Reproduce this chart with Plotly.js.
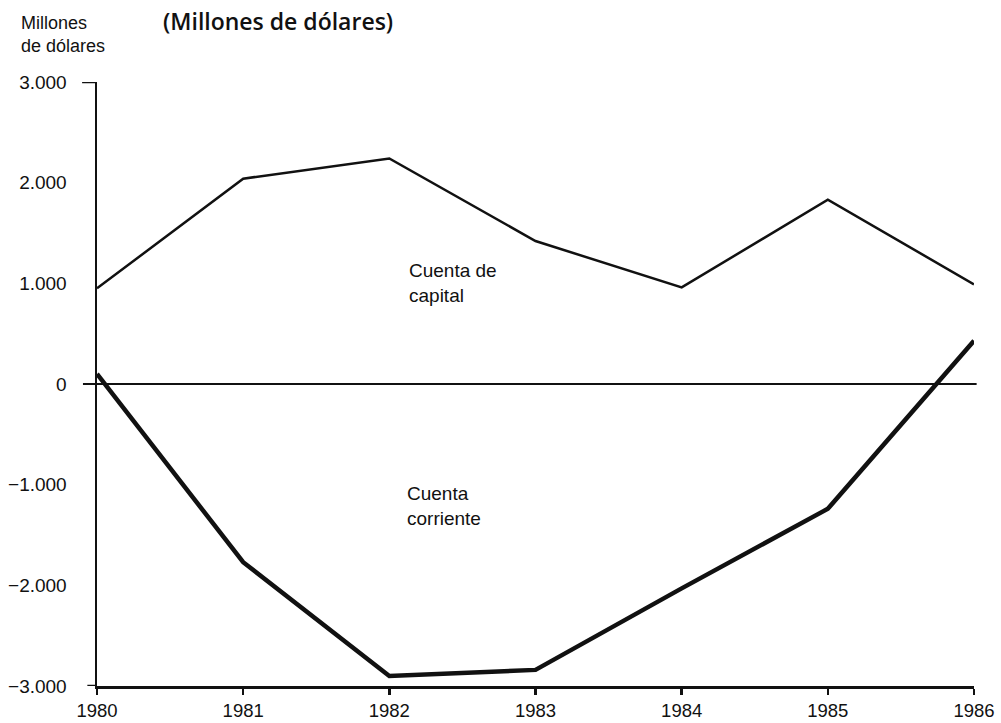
<!DOCTYPE html>
<html>
<head>
<meta charset="utf-8">
<script src="https://cdn.plot.ly/plotly-3.0.1.min.js"></script>
<style>html,body{margin:0;padding:0;background:#fff;}#chart{width:1001px;height:723px;}</style>
</head>
<body>
<div id="chart"></div>
<script>
const years = [1980, 1981, 1982, 1983, 1984, 1985, 1986];
const cuentaCapital = [950, 2040, 2240, 1420, 960, 1830, 990];
const cuentaCorriente = [100, -1770, -2900, -2840, -2030, -1240, 430];
const yTickVals = [3000, 2000, 1000, 0, -1000, -2000, -3000];
const yTickText = ["3.000", "2.000", "1.000", "0", "\u22121.000", "\u22122.000", "\u22123.000"];
const xTickText = ["1980", "1981", "1982", "1983", "1984", "1985", "1986"];

const font = "Liberation Sans, Arial, sans-serif";

const traces = [
  {x: years, y: cuentaCapital, type: 'scatter', mode: 'lines',
   line: {color: '#111', width: 2.5}, hoverinfo: 'skip'},
  {x: years, y: cuentaCorriente, type: 'scatter', mode: 'lines',
   line: {color: '#111', width: 4.5}, hoverinfo: 'skip'}
];

const layout = {
  width: 1001, height: 723,
  margin: {l: 97, r: 27, t: 82, b: 37},
  paper_bgcolor: '#fff', plot_bgcolor: '#fff',
  showlegend: false,
  font: {family: font, color: '#111', size: 18},
  title: {text: '(Millones de dólares)', xref: 'container', yref: 'container',
          x: 163/1001, xanchor: 'left', y: 1 - 22/723, yanchor: 'middle',
          font: {family: 'Open Sans, sans-serif', size: 23, weight: 600, color: '#111'}},
  xaxis: {range: [1980, 1986], tickvals: years, ticktext: xTickText,
          showgrid: false, zeroline: false, showline: true, linecolor: '#111', linewidth: 2.5,
          ticks: 'outside', ticklen: 6, tickwidth: 2.5, tickcolor: '#111',
          tickfont: {size: 18.5, family: font, color: '#111'}, fixedrange: true},
  yaxis: {range: [-3000, 3000], tickvals: yTickVals, ticktext: yTickText,
          showgrid: false, zeroline: false, showline: true, linecolor: '#111', linewidth: 2.5,
          ticks: '', ticklabelstandoff: 24,
          tickfont: {size: 19, family: font, color: '#111'}, fixedrange: true},
  shapes: [
    {type: 'line', xref: 'paper', yref: 'y', x0: -0.016, x1: 1.003, y0: 0, y1: 0,
     line: {color: '#111', width: 2.2}},
    {type: 'line', xref: 'paper', yref: 'y', x0: -0.017, x1: 0, y0: 3000, y1: 3000,
     line: {color: '#111', width: 2.5}},
    {type: 'line', xref: 'paper', yref: 'y', x0: -0.011, x1: 0, y0: -3000, y1: -3000,
     line: {color: '#111', width: 2.5}}
  ],
  annotations: [
    {text: 'Millones<br>de dólares', xref: 'paper', yref: 'paper', x: -78/877, y: 1 + 82/604 - 0.018,
     xanchor: 'left', yanchor: 'top', align: 'left', showarrow: false,
     font: {size: 18, family: font, color: '#111'}},
    {text: 'Cuenta de<br>capital', xref: 'x', yref: 'y', x: 1982.12, y: 1000,
     xanchor: 'left', yanchor: 'middle', align: 'left', showarrow: false,
     font: {size: 19, family: font, color: '#111'}},
    {text: 'Cuenta<br>corriente', xref: 'x', yref: 'y', x: 1982.11, y: -1210,
     xanchor: 'left', yanchor: 'middle', align: 'left', showarrow: false,
     font: {size: 19, family: font, color: '#111'}}
  ]
};

Plotly.newPlot('chart', traces, layout, {staticPlot: true, displayModeBar: false});
</script>
</body>
</html>
